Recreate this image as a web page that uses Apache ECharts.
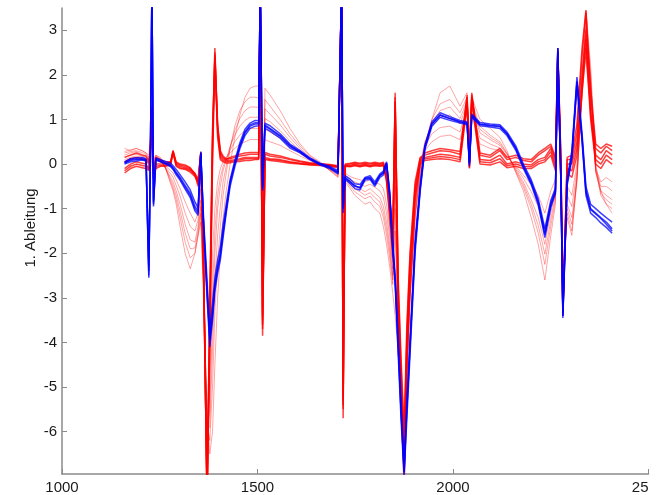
<!DOCTYPE html>
<html lang="de" style="height: 100%">
<head>
  <meta charset="utf-8">
</head>
<body style="height: 100%; margin: 0; background: #fff">
  <div id="container" style="width: 660px; height: 495px"></div>

  <script type="text/javascript" src="https://cdn.jsdelivr.net/npm/echarts@6/dist/echarts.min.js"></script>

  <script type="text/javascript">
    // Wellenzahl-Raster (gemeinsam fuer alle Spektren)
    var wavenumber = [
      1160, 1175, 1190, 1205, 1215, 1222, 1226, 1230, 1234, 1240,
      1252, 1265, 1278, 1284, 1292, 1302, 1315, 1328, 1340, 1348,
      1355, 1362, 1371, 1378, 1385, 1391, 1398, 1405, 1412, 1420,
      1430, 1442, 1455, 1468, 1481, 1494, 1503, 1507, 1513, 1519,
      1532, 1558, 1583, 1609, 1634, 1660, 1685, 1706, 1715, 1719,
      1724, 1737, 1749, 1762, 1775, 1788, 1800, 1813, 1822, 1830,
      1838, 1846, 1852, 1860, 1867, 1875, 1882, 1890, 1903, 1916,
      1928, 1946, 1967, 1992, 2018, 2036, 2042, 2048, 2069, 2095,
      2120, 2138, 2161, 2180, 2200, 2218, 2235, 2250, 2262, 2268,
      2276, 2281, 2292, 2304, 2317, 2330, 2340, 2352, 2365, 2378,
      2392, 2407
    ];

    // rote Spektren, breite Gruppe
    var redM1 = [
      0.10, 0.15, 0.18, 0.15, 0.12, 0.05, 0.20, 1.00, -0.10, 0.10,
      0.05, -0.05, -0.15, -0.20, -0.35, -0.55, -0.85, -1.10, -1.30, -1.10,
      -0.30, -2.20, -6.50, -4.50, -2.00, -1.00, -0.40, -0.10, 0.05, 0.15,
      0.25, 0.35, 0.45, 0.50, 0.55, 0.55, 0.55, 4.00, -3.00, 0.55,
      0.50, 0.42, 0.30, 0.18, 0.08, 0.00, -0.08, -0.15, 4.00, -4.80,
      -0.20, -0.28, -0.32, -0.35, -0.40, -0.35, -0.42, -0.45, -0.55, -0.90,
      -1.40, -2.20, 0.50, -3.40, -5.00, -6.80, -4.50, -2.80, -0.90, 0.05,
      0.30, 0.50, 0.62, 0.65, 0.55, 1.20, 0.20, 1.10, 0.45, 0.35,
      0.30, 0.15, -0.05, -0.25, -0.45, -0.70, -1.10, -0.60, -0.35, 2.20,
      -0.30, -3.00, -0.50, -0.70, 0.00, 1.60, 2.40, 1.20, -0.10, -0.40,
      -0.30, -0.40
    ];
    var redM2 = [
      0.15, 0.20, 0.22, 0.18, 0.15, 0.08, 0.22, 0.95, -0.05, 0.12,
      0.08, -0.08, -0.22, -0.30, -0.48, -0.72, -1.10, -1.40, -1.50, -1.25,
      -0.55, -2.40, -6.20, -5.00, -2.80, -1.50, -0.70, -0.30, -0.05, 0.12,
      0.32, 0.50, 0.65, 0.75, 0.80, 0.80, 0.80, 4.00, -2.80, 0.78,
      0.72, 0.58, 0.40, 0.24, 0.10, 0.00, -0.10, -0.18, 4.00, -4.50,
      -0.25, -0.35, -0.40, -0.45, -0.50, -0.45, -0.52, -0.60, -0.75, -1.10,
      -1.60, -2.35, 0.00, -3.60, -5.10, -6.70, -4.60, -2.90, -1.00, 0.00,
      0.40, 0.68, 0.82, 0.85, 0.72, 1.25, 0.30, 1.15, 0.58, 0.45,
      0.36, 0.18, -0.08, -0.32, -0.62, -0.95, -1.45, -0.85, -0.48, 2.10,
      -0.38, -2.90, -0.70, -0.95, -0.15, 1.55, 2.70, 1.50, -0.15, -0.50,
      -0.50, -0.60
    ];
    var redM3 = [
      0.20, 0.25, 0.28, 0.22, 0.18, 0.10, 0.25, 0.90, 0.00, 0.15,
      0.10, -0.10, -0.30, -0.40, -0.60, -0.90, -1.35, -1.70, -1.75, -1.40,
      -0.80, -2.60, -6.00, -5.50, -3.50, -2.00, -1.00, -0.50, -0.15, 0.10,
      0.40, 0.65, 0.85, 0.98, 1.05, 1.05, 1.05, 4.00, -2.60, 1.02,
      0.95, 0.75, 0.52, 0.30, 0.12, 0.00, -0.12, -0.22, 4.00, -4.30,
      -0.30, -0.42, -0.50, -0.55, -0.62, -0.55, -0.65, -0.75, -0.95, -1.30,
      -1.80, -2.50, -0.50, -3.80, -5.20, -6.60, -4.80, -3.00, -1.10, -0.05,
      0.50, 0.85, 1.05, 1.10, 0.90, 1.35, 0.40, 1.25, 0.70, 0.55,
      0.42, 0.22, -0.12, -0.40, -0.80, -1.20, -1.80, -1.10, -0.60, 2.00,
      -0.45, -2.80, -0.90, -1.20, -0.30, 1.50, 2.90, 1.80, -0.20, -0.60,
      -0.70, -0.80
    ];
    var redM4 = [
      0.25, 0.28, 0.30, 0.26, 0.22, 0.12, 0.24, 0.88, 0.02, 0.18,
      0.11, -0.10, -0.35, -0.48, -0.70, -1.05, -1.55, -1.90, -1.88, -1.50,
      -0.95, -2.70, -5.90, -5.90, -4.20, -2.60, -1.60, -0.95, -0.40, -0.05,
      0.38, 0.75, 1.02, 1.20, 1.28, 1.28, 1.27, 4.00, -2.45, 1.24,
      1.12, 0.88, 0.60, 0.35, 0.15, 0.01, -0.13, -0.25, 3.90, -4.15,
      -0.32, -0.46, -0.56, -0.62, -0.70, -0.64, -0.75, -0.85, -1.08, -1.45,
      -1.95, -2.60, -1.00, -3.90, -5.20, -6.50, -4.70, -3.00, -1.15, -0.12,
      0.45, 0.92, 1.20, 1.28, 1.02, 1.42, 0.45, 1.32, 0.78, 0.60,
      0.46, 0.24, -0.15, -0.46, -0.90, -1.38, -2.02, -1.25, -0.70, 2.05,
      -0.50, -2.75, -1.00, -1.35, -0.35, 1.60, 3.05, 1.90, -0.15, -0.65,
      -0.80, -0.90
    ];
    var redM5 = [
      0.28, 0.32, 0.35, 0.30, 0.25, 0.15, 0.22, 0.85, 0.05, 0.20,
      0.12, -0.10, -0.40, -0.55, -0.80, -1.20, -1.75, -2.10, -2.00, -1.60,
      -1.10, -2.80, -5.80, -6.20, -5.00, -3.30, -2.20, -1.40, -0.70, -0.20,
      0.35, 0.85, 1.20, 1.40, 1.50, 1.50, 1.48, 4.00, -2.30, 1.45,
      1.30, 1.00, 0.68, 0.40, 0.18, 0.02, -0.14, -0.28, 3.80, -4.00,
      -0.35, -0.50, -0.62, -0.70, -0.78, -0.72, -0.85, -0.95, -1.20, -1.60,
      -2.10, -2.70, -1.50, -4.00, -5.20, -6.40, -4.60, -3.00, -1.20, -0.20,
      0.40, 1.00, 1.35, 1.45, 1.15, 1.50, 0.50, 1.40, 0.85, 0.65,
      0.50, 0.25, -0.18, -0.52, -1.00, -1.55, -2.25, -1.40, -0.80, 2.10,
      -0.55, -2.70, -1.10, -1.50, -0.40, 1.70, 3.20, 2.00, -0.10, -0.70,
      -0.90, -1.00
    ];
    var redM6 = [
      0.35, 0.30, 0.35, 0.30, 0.25, 0.20, 0.20, 1.00, 0.10, 0.20,
      0.15, -0.10, -0.45, -0.60, -0.90, -1.40, -2.00, -2.35, -2.00, -1.60,
      -1.30, -3.00, -5.50, -6.50, -6.00, -4.50, -3.00, -2.00, -1.20, -0.60,
      0.00, 0.60, 1.10, 1.50, 1.70, 1.75, 1.75, 4.00, -2.50, 1.70,
      1.55, 1.20, 0.80, 0.45, 0.20, 0.05, -0.15, -0.30, 3.50, -4.00,
      -0.40, -0.55, -0.70, -0.80, -0.90, -0.85, -1.00, -1.10, -1.40, -1.80,
      -2.30, -2.90, -3.40, -4.20, -5.20, -6.20, -4.60, -3.00, -1.20, -0.30,
      0.40, 1.00, 1.60, 1.75, 1.30, 1.60, 0.60, 1.50, 1.00, 0.80,
      0.60, 0.30, -0.20, -0.60, -1.20, -1.80, -2.60, -1.60, -0.90, 2.00,
      -0.60, -2.50, -1.20, -1.60, -0.30, 1.80, 3.45, 2.20, 0.00, -0.60,
      -0.90, -1.10
    ];

    // rote Spektren, enge Gruppe um 0
    var redF1 = [
      -0.10, 0.00, 0.05, 0.02, 0.00, -0.10, 0.30, 1.30, -0.30, 0.00,
      0.00, 0.00, 0.05, 0.30, 0.00, -0.05, -0.08, -0.12, -0.20, -0.35,
      0.27, -2.00, -7.50, -3.50, 0.50, 2.60, 0.80, 0.20, 0.12, 0.08,
      0.08, 0.10, 0.12, 0.15, 0.15, 0.15, 0.15, 4.00, -3.85, 0.15,
      0.12, 0.10, 0.05, 0.02, 0.00, 0.00, -0.03, -0.05, 4.00, -5.70,
      -0.03, -0.03, 0.00, -0.03, 0.00, -0.03, 0.00, -0.02, 0.00, -0.30,
      -1.00, -1.80, 1.60, -3.00, -4.80, -6.50, -4.00, -2.30, -0.60, 0.10,
      0.15, 0.18, 0.22, 0.20, 0.15, 1.55, -0.05, 1.60, 0.10, 0.08,
      0.20, 0.00, 0.05, 0.00, -0.02, 0.10, 0.15, 0.35, 0.00, 2.60,
      0.00, -3.40, 0.00, 0.00, 0.50, 2.00, 3.00, 1.20, 0.20, 0.10,
      0.30, 0.20
    ];
    var redF2 = [
      -0.20, -0.10, -0.05, -0.08, -0.10, -0.15, 0.10, 1.10, -0.35, -0.10,
      -0.05, -0.05, -0.02, 0.25, -0.05, -0.10, -0.12, -0.18, -0.28, -0.40,
      0.20, -2.40, -7.50, -4.00, 0.00, 2.30, 0.60, 0.10, 0.05, 0.02,
      0.03, 0.05, 0.06, 0.08, 0.08, 0.10, 0.10, 4.00, -3.50, 0.10,
      0.08, 0.05, 0.02, 0.00, -0.02, -0.03, -0.05, -0.08, 4.00, -5.20,
      -0.05, -0.06, -0.04, -0.06, -0.04, -0.06, -0.04, -0.05, -0.04, -0.40,
      -1.20, -2.10, 1.20, -3.40, -5.20, -7.20, -4.50, -2.60, -0.80, 0.00,
      0.08, 0.10, 0.12, 0.10, 0.05, 1.30, -0.10, 1.40, 0.00, -0.02,
      0.05, -0.08, -0.05, -0.10, -0.10, 0.00, 0.05, 0.20, -0.15, 2.40,
      -0.10, -3.20, -0.20, -0.30, 0.20, 1.60, 2.60, 1.00, 0.00, -0.10,
      0.10, 0.00
    ];
    var redF3 = [
      0.05, 0.12, 0.15, 0.12, 0.10, 0.00, 0.35, 1.20, -0.20, 0.10,
      0.05, 0.02, 0.02, 0.28, 0.02, -0.02, -0.05, -0.10, -0.25, -0.45,
      0.25, -2.20, -7.50, -3.00, 0.80, 2.40, 0.90, 0.30, 0.18, 0.12,
      0.12, 0.15, 0.18, 0.20, 0.22, 0.22, 0.22, 4.00, -3.60, 0.22,
      0.18, 0.15, 0.10, 0.05, 0.02, 0.00, -0.02, -0.05, 4.00, -5.50,
      -0.02, 0.00, 0.02, 0.00, 0.02, 0.00, 0.02, 0.00, 0.02, -0.20,
      -0.80, -1.50, 1.40, -2.60, -4.30, -6.00, -3.60, -2.00, -0.40, 0.15,
      0.20, 0.25, 0.30, 0.28, 0.22, 1.45, 0.05, 1.50, 0.20, 0.15,
      0.30, 0.10, 0.15, 0.08, 0.05, 0.20, 0.30, 0.40, 0.10, 2.50,
      0.10, -3.30, 0.10, 0.10, 0.70, 2.40, 3.40, 1.50, 0.35, 0.25,
      0.40, 0.30
    ];
    var redF4 = [
      -0.15, -0.05, 0.00, -0.03, -0.05, -0.12, 0.20, 1.20, -0.32, -0.05,
      -0.03, -0.03, 0.02, 0.27, -0.03, -0.08, -0.10, -0.15, -0.24, -0.38,
      0.24, -2.20, -7.50, -3.80, 0.30, 2.50, 0.70, 0.15, 0.08, 0.05,
      0.05, 0.08, 0.09, 0.12, 0.12, 0.12, 0.12, 4.00, -3.70, 0.12,
      0.10, 0.08, 0.04, 0.01, -0.01, -0.02, -0.04, -0.06, 4.00, -5.40,
      -0.04, -0.05, -0.02, -0.05, -0.02, -0.05, -0.02, -0.04, -0.02, -0.35,
      -1.10, -1.95, 1.40, -3.20, -5.00, -6.90, -4.20, -2.45, -0.70, 0.05,
      0.12, 0.14, 0.17, 0.15, 0.10, 1.40, -0.08, 1.50, 0.05, 0.03,
      0.12, -0.04, 0.00, -0.05, -0.06, 0.05, 0.10, 0.28, -0.08, 2.50,
      -0.05, -3.30, -0.10, -0.15, 0.35, 1.80, 2.80, 1.10, 0.10, 0.00,
      0.20, 0.10
    ];
    var redF5 = [
      0.15, 0.20, 0.25, 0.20, 0.18, 0.05, 0.30, 1.25, -0.15, 0.15,
      0.10, 0.05, 0.05, 0.30, 0.05, 0.00, -0.02, -0.08, -0.22, -0.50,
      0.26, -2.30, -7.50, -3.20, 0.60, 2.45, 0.85, 0.25, 0.15, 0.10,
      0.15, 0.18, 0.22, 0.25, 0.26, 0.26, 0.26, 4.00, -3.40, 0.26,
      0.22, 0.18, 0.12, 0.07, 0.03, 0.01, -0.01, -0.04, 4.00, -5.30,
      0.00, 0.02, 0.04, 0.02, 0.04, 0.02, 0.04, 0.02, 0.04, -0.25,
      -0.90, -1.65, 1.50, -2.80, -4.50, -6.20, -3.80, -2.10, -0.50, 0.12,
      0.25, 0.30, 0.35, 0.32, 0.28, 1.50, 0.08, 1.55, 0.25, 0.20,
      0.35, 0.15, 0.20, 0.12, 0.10, 0.25, 0.35, 0.45, 0.15, 2.55,
      0.15, -3.35, 0.15, 0.20, 0.90, 2.60, 3.45, 1.70, 0.45, 0.35,
      0.45, 0.40
    ];

    // blaue Spektren
    var blueB1 = [
      0.02, 0.08, 0.10, 0.12, 0.10, -2.55, 0.10, 4.00, -0.90, 0.12,
      0.08, 0.03, -0.02, -0.08, -0.18, -0.30, -0.48, -0.66, -0.95, -1.05,
      0.25, -1.30, -2.80, -3.90, -3.30, -2.70, -2.30, -2.00, -1.50, -1.00,
      -0.40, 0.00, 0.40, 0.70, 0.85, 0.90, 0.90, 4.00, -0.50, 0.85,
      0.78, 0.62, 0.40, 0.28, 0.12, 0.00, -0.08, -0.18, 4.00, -1.00,
      -0.30, -0.40, -0.50, -0.52, -0.32, -0.30, -0.45, -0.25, -0.20, 0.02,
      -0.66, -1.85, -2.60, -4.10, -5.50, -6.90, -5.50, -4.10, -1.85, -0.55,
      0.37, 0.90, 1.10, 1.02, 0.95, 0.92, 0.00, 1.10, 0.90, 0.87,
      0.85, 0.68, 0.35, -0.05, -0.40, -0.85, -1.55, -0.90, -0.60, 2.60,
      -0.40, -3.40, -0.40, 0.20, 1.85, 0.60, -0.60, -1.00, -1.10, -1.20,
      -1.30, -1.45
    ];
    var blueB2 = [
      0.05, 0.12, 0.14, 0.15, 0.12, -2.30, 0.14, 4.00, -0.80, 0.14,
      0.10, 0.06, 0.02, -0.04, -0.12, -0.24, -0.40, -0.58, -0.85, -0.98,
      0.22, -1.20, -2.60, -3.70, -3.10, -2.55, -2.15, -1.85, -1.35, -0.90,
      -0.35, 0.08, 0.48, 0.78, 0.92, 0.98, 0.97, 4.00, -0.40, 0.92,
      0.86, 0.68, 0.45, 0.30, 0.14, 0.02, -0.05, -0.15, 4.00, -0.90,
      -0.26, -0.34, -0.44, -0.46, -0.30, -0.26, -0.40, -0.22, -0.16, 0.05,
      -0.60, -1.75, -2.50, -3.90, -5.30, -6.70, -5.30, -3.90, -1.70, -0.45,
      0.42, 0.95, 1.15, 1.06, 0.98, 0.95, 0.05, 1.12, 0.93, 0.90,
      0.88, 0.72, 0.40, 0.00, -0.35, -0.78, -1.45, -0.82, -0.55, 2.50,
      -0.35, -3.30, -0.32, 0.30, 1.95, 0.70, -0.50, -0.90, -1.00, -1.10,
      -1.20, -1.30
    ];
    var blueB3 = [
      0.00, 0.05, 0.07, 0.09, 0.07, -2.50, 0.06, 4.00, -0.95, 0.09,
      0.05, 0.00, -0.06, -0.12, -0.24, -0.36, -0.56, -0.75, -1.05, -1.15,
      0.28, -1.40, -3.00, -4.10, -3.50, -2.85, -2.45, -2.15, -1.65, -1.10,
      -0.50, -0.06, 0.35, 0.64, 0.80, 0.85, 0.86, 4.00, -0.60, 0.80,
      0.74, 0.58, 0.36, 0.25, 0.10, -0.02, -0.10, -0.22, 4.00, -1.10,
      -0.34, -0.44, -0.55, -0.58, -0.36, -0.34, -0.50, -0.30, -0.24, 0.00,
      -0.72, -1.95, -2.70, -4.30, -5.70, -7.00, -5.70, -4.30, -2.00, -0.62,
      0.32, 0.85, 1.05, 0.98, 0.92, 0.88, -0.05, 1.05, 0.86, 0.83,
      0.80, 0.64, 0.30, -0.10, -0.46, -0.92, -1.65, -0.98, -0.66, 2.60,
      -0.45, -3.45, -0.48, 0.10, 1.75, 0.50, -0.70, -1.10, -1.20, -1.32,
      -1.42, -1.55
    ];
    var blueB4 = [
      0.03, 0.10, 0.12, 0.10, 0.08, -2.40, 0.08, 4.00, -0.85, 0.10,
      0.06, 0.01, -0.04, -0.10, -0.20, -0.33, -0.52, -0.70, -1.00, -1.10,
      0.24, -1.35, -2.90, -3.95, -3.40, -2.75, -2.35, -2.05, -1.55, -1.05,
      -0.42, 0.02, 0.42, 0.72, 0.88, 0.93, 0.92, 4.00, -0.55, 0.88,
      0.80, 0.64, 0.42, 0.27, 0.11, 0.00, -0.08, -0.20, 4.00, -1.00,
      -0.30, -0.40, -0.48, -0.54, -0.33, -0.31, -0.46, -0.26, -0.20, 0.03,
      -0.66, -1.88, -2.60, -4.15, -5.55, -6.90, -5.50, -4.10, -1.85, -0.55,
      0.38, 0.90, 1.10, 1.02, 0.95, 0.91, 0.02, 1.08, 0.89, 0.86,
      0.84, 0.68, 0.34, -0.06, -0.42, -0.86, -1.58, -0.92, -0.62, 2.55,
      -0.42, -3.40, -0.42, 0.20, 1.85, 0.58, -0.62, -1.02, -1.12, -1.22,
      -1.35, -1.50
    ];

    var xTicks = [1000, 1500, 2000, 2500];
    var yTicks = [-6, -5, -4, -3, -2, -1, 0, 1, 2, 3];

    var redBroad = [redM1, redM2, redM3, redM4, redM5, redM6];
    var redTight = [redF1, redF2, redF3, redF4, redF5];
    var blueAll = [blueB1, blueB2, blueB3, blueB4];

    function pairs(values) {
      return wavenumber.map(function (x, i) { return [x, values[i]]; });
    }

    function makeSeries(values, color, width) {
      return {
        type: 'line',
        data: pairs(values),
        showSymbol: false,
        silent: true,
        clip: true,
        lineStyle: { color: color, width: width },
        emphasis: { disabled: true }
      };
    }

    var series = [];
    redBroad.forEach(function (v) { series.push(makeSeries(v, 'rgba(255,0,0,0.4)', 0.9)); });
    redTight.forEach(function (v) { series.push(makeSeries(v, 'rgba(255,0,0,0.75)', 1.5)); });
    blueAll.forEach(function (v) { series.push(makeSeries(v, 'rgba(0,0,255,0.75)', 1.5)); });

    var dom = document.getElementById('container');
    var myChart = echarts.init(dom, null, { renderer: 'canvas' });
    var axisGray = '#8a8a8a';
    var labelFont = { color: '#1a1a1a', fontSize: 15, fontFamily: 'Liberation Sans, Arial, sans-serif' };

    var option = {
      animation: false,
      backgroundColor: '#fff',
      grid: { left: 62, right: 11.5, top: 8, bottom: 21, outerBoundsMode: 'none' },
      xAxis: {
        type: 'value',
        min: 1000,
        max: 2500,
        interval: 500,
        axisLine: { onZero: false, lineStyle: { color: axisGray, width: 1.5 } },
        axisTick: { inside: true, length: 5, lineStyle: { color: axisGray } },
        axisLabel: Object.assign({
          margin: 6,
          customValues: xTicks,
          alignMinLabel: 'center',
          // im Original ist das Bild rechts abgeschnitten, nur "25" ist sichtbar
          alignMaxLabel: 'right',
          formatter: function (v) { return v === 2500 ? '25' : String(v); }
        }, labelFont),
        splitLine: { show: false }
      },
      yAxis: {
        type: 'value',
        min: -6.95,
        max: 3.5,
        name: '1. Ableitung',
        nameLocation: 'middle',
        nameGap: 24,
        nameMoveOverlap: false,
        nameTextStyle: Object.assign({ padding: [0, 0, 0, 26] }, labelFont),
        axisLine: { onZero: false, lineStyle: { color: axisGray, width: 1.5 } },
        axisTick: { inside: true, length: 5, customValues: yTicks, lineStyle: { color: axisGray } },
        axisLabel: Object.assign({ margin: 5, customValues: yTicks }, labelFont),
        splitLine: { show: false }
      },
      series: series
    };

    myChart.setOption(option);
    window.addEventListener('resize', myChart.resize);
  </script>
</body>
</html>
